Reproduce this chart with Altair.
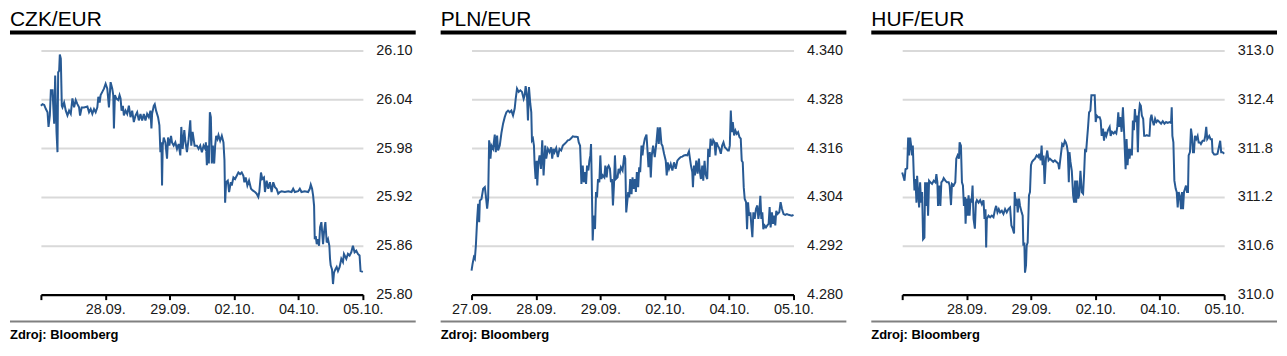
import altair as alt
import pandas as pd

# ---------------- data (observation index, rate) ----------------
TICK_POS = [0, 194, 388, 582, 776, 970]
CZK_LABELS = ["", "28.09.", "29.09.", "02.10.", "04.10.", "05.10."]
PLN_LABELS = ["27.09.", "28.09.", "29.09.", "02.10.", "04.10.", "05.10."]
HUF_LABELS = ["", "28.09.", "29.09.", "02.10.", "04.10.", "05.10."]

CZK_IDX = [0, 5, 10, 15, 20, 23, 27, 30, 35, 37, 40, 43, 47, 50, 52, 55, 57, 60, 63, 65,
           70, 75, 80, 85, 90, 95, 100, 105, 110, 115, 118, 123, 130, 140, 145, 150, 155, 160, 165, 170,
           173, 177, 180, 185, 190, 195, 200, 205, 210, 215, 218, 220, 223, 227, 233, 237, 240, 243, 247, 250,
           255, 260, 265, 270, 275, 280, 285, 290, 295, 300, 305, 310, 315, 320, 325, 330, 333, 335, 340, 343,
           347, 353, 357, 360, 363, 365, 367, 370, 375, 380, 383, 387, 392, 395, 400, 405, 410, 415, 420, 423,
           427, 432, 435, 440, 445, 450, 453, 457, 463, 470, 475, 480, 485, 490, 495, 497, 500, 503, 506, 509,
           512, 515, 518, 522, 525, 528, 532, 535, 540, 545, 550, 553, 555, 558, 563, 567, 572, 575, 580, 585,
           590, 595, 600, 605, 610, 613, 617, 622, 627, 633, 638, 645, 650, 655, 658, 663, 667, 672, 675, 680,
           685, 690, 695, 700, 705, 710, 715, 720, 725, 735, 745, 755, 760, 765, 775, 780, 785, 795, 805, 810,
           813, 817, 820, 823, 825, 828, 831, 835, 838, 841, 845, 850, 853, 857, 861, 865, 869, 871, 873, 877,
           880, 883, 887, 891, 895, 900, 905, 910, 913, 920, 925, 930, 935, 940, 945, 950, 955, 960, 963, 970]
CZK_VAL = [26.032, 26.034, 26.033, 26.028, 26.024, 26.006, 26.020, 26.051, 26.051, 26.034, 26.010, 26.069, 26.000, 25.975, 26.073, 26.075, 26.095, 26.090, 26.032, 26.030,
           26.036, 26.026, 26.020, 26.026, 26.022, 26.041, 26.030, 26.039, 26.034, 26.030, 26.020, 26.030, 26.030, 26.031, 26.024, 26.028, 26.022, 26.028, 26.024, 26.030,
           26.043, 26.036, 26.045, 26.049, 26.053, 26.059, 26.053, 26.030, 26.061, 26.053, 26.045, 26.004, 26.045, 26.041, 26.039, 26.045, 26.041, 26.026, 26.032, 26.020,
           26.026, 26.022, 26.032, 26.018, 26.026, 26.012, 26.020, 26.024, 26.014, 26.022, 26.014, 26.022, 26.014, 26.022, 26.018, 26.026, 26.004, 26.022, 26.032, 26.034,
           26.026, 26.018, 26.008, 25.975, 25.987, 25.934, 25.983, 25.993, 25.987, 25.967, 25.993, 25.983, 25.995, 25.987, 25.983, 25.987, 25.979, 25.985, 25.971, 26.006,
           25.979, 26.002, 25.989, 25.975, 25.991, 26.014, 25.983, 26.000, 25.983, 25.983, 25.979, 25.983, 25.975, 25.983, 25.979, 25.987, 25.959, 25.983, 25.961, 26.024,
           26.018, 25.961, 25.983, 25.961, 25.983, 25.995, 25.991, 25.996, 25.989, 25.995, 25.987, 25.965, 25.913, 25.938, 25.940, 25.926, 25.938, 25.934, 25.944, 25.942,
           25.946, 25.950, 25.948, 25.950, 25.946, 25.938, 25.944, 25.934, 25.940, 25.930, 25.928, 25.926, 25.924, 25.920, 25.926, 25.950, 25.942, 25.944, 25.926, 25.940,
           25.930, 25.938, 25.926, 25.938, 25.932, 25.930, 25.924, 25.926, 25.927, 25.926, 25.927, 25.926, 25.930, 25.926, 25.927, 25.930, 25.926, 25.927, 25.926, 25.930,
           25.935, 25.930, 25.922, 25.909, 25.868, 25.872, 25.862, 25.868, 25.860, 25.883, 25.889, 25.862, 25.877, 25.889, 25.864, 25.868, 25.860, 25.844, 25.836, 25.831,
           25.813, 25.827, 25.831, 25.834, 25.829, 25.834, 25.844, 25.840, 25.850, 25.844, 25.850, 25.848, 25.852, 25.860, 25.852, 25.854, 25.850, 25.848, 25.829, 25.828]

PLN_IDX = [0, 3, 7, 10, 13, 17, 20, 23, 25, 30, 35, 40, 43, 47, 50, 53, 57, 60, 65, 70,
           73, 77, 80, 85, 90, 95, 100, 105, 110, 115, 120, 125, 130, 133, 137, 142, 147, 152, 157, 160,
           163, 167, 170, 173, 177, 180, 182, 185, 188, 190, 193, 196, 198, 201, 205, 209, 213, 217, 222, 225,
           230, 235, 240, 243, 247, 250, 255, 260, 265, 270, 275, 280, 285, 290, 295, 300, 305, 310, 315, 320,
           323, 327, 329, 331, 335, 338, 342, 345, 348, 352, 355, 358, 360, 362, 365, 368, 372, 375, 378, 381,
           385, 388, 391, 395, 400, 403, 407, 410, 413, 417, 420, 423, 426, 429, 432, 435, 440, 443, 447, 450,
           455, 460, 463, 466, 469, 472, 475, 478, 482, 485, 488, 492, 495, 498, 502, 505, 508, 512, 515, 518,
           522, 527, 531, 533, 537, 540, 543, 547, 552, 557, 561, 564, 568, 572, 575, 580, 585, 588, 591, 595,
           600, 605, 610, 615, 620, 625, 630, 635, 640, 645, 650, 655, 658, 661, 665, 667, 670, 673, 677, 681,
           685, 688, 691, 695, 698, 702, 705, 708, 710, 713, 717, 720, 724, 728, 732, 735, 738, 742, 747, 751,
           755, 759, 763, 768, 772, 775, 778, 781, 784, 787, 791, 795, 799, 803, 807, 811, 814, 817, 820, 823,
           827, 830, 833, 836, 840, 843, 846, 849, 853, 857, 861, 864, 867, 870, 873, 876, 879, 883, 887, 891,
           895, 898, 901, 905, 908, 912, 915, 918, 922, 927, 931, 935, 940, 945, 950, 955, 965, 970]
PLN_VAL = [4.2859, 4.2875, 4.2892, 4.2888, 4.2920, 4.2986, 4.3023, 4.2978, 4.3031, 4.3035, 4.3060, 4.3064, 4.3043, 4.3011, 4.3035, 4.3179, 4.3134, 4.3166, 4.3158, 4.3193,
           4.3150, 4.3191, 4.3154, 4.3166, 4.3197, 4.3220, 4.3236, 4.3248, 4.3252, 4.3248, 4.3252, 4.3240, 4.3257, 4.3281, 4.3306, 4.3298, 4.3302, 4.3298, 4.3281, 4.3289,
           4.3312, 4.3289, 4.3228, 4.3310, 4.3269, 4.3248, 4.3179, 4.3183, 4.3166, 4.3121, 4.3084, 4.3129, 4.3068, 4.3121, 4.3142, 4.3109, 4.3179, 4.3093, 4.3166, 4.3134,
           4.3158, 4.3150, 4.3162, 4.3134, 4.3158, 4.3150, 4.3160, 4.3138, 4.3158, 4.3154, 4.3166, 4.3170, 4.3174, 4.3179, 4.3180, 4.3184, 4.3189, 4.3188, 4.3188, 4.3187,
           4.3174, 4.3166, 4.3121, 4.3072, 4.3117, 4.3076, 4.3101, 4.3072, 4.3117, 4.3105, 4.3129, 4.3142, 4.3170, 4.3084, 4.2933, 4.2994, 4.2961, 4.3052, 4.3039, 4.3084,
           4.3076, 4.3142, 4.3084, 4.3093, 4.3088, 4.3117, 4.3088, 4.3113, 4.3117, 4.3109, 4.3076, 4.3084, 4.3019, 4.3068, 4.3142, 4.3084, 4.3088, 4.3109, 4.3101, 4.3113,
           4.3105, 4.3142, 4.3134, 4.3002, 4.3027, 4.3052, 4.3039, 4.3084, 4.3047, 4.3088, 4.3060, 4.3084, 4.3052, 4.3101, 4.3064, 4.3113, 4.3101, 4.3166, 4.3142, 4.3166,
           4.3183, 4.3193, 4.3142, 4.3113, 4.3150, 4.3088, 4.3142, 4.3166, 4.3138, 4.3174, 4.3211, 4.3170, 4.3211, 4.3170, 4.3166, 4.3146, 4.3129, 4.3093, 4.3125, 4.3109,
           4.3121, 4.3105, 4.3125, 4.3109, 4.3129, 4.3134, 4.3138, 4.3139, 4.3142, 4.3143, 4.3142, 4.3152, 4.3134, 4.3117, 4.3101, 4.3064, 4.3117, 4.3093, 4.3129, 4.3097,
           4.3134, 4.3101, 4.3084, 4.3117, 4.3080, 4.3129, 4.3097, 4.3088, 4.3084, 4.3158, 4.3138, 4.3183, 4.3166, 4.3180, 4.3174, 4.3142, 4.3174, 4.3166, 4.3158, 4.3146,
           4.3166, 4.3174, 4.3162, 4.3158, 4.3154, 4.3154, 4.3166, 4.3252, 4.3199, 4.3224, 4.3191, 4.3203, 4.3195, 4.3199, 4.3187, 4.3183, 4.3129, 4.3125, 4.3064, 4.3035,
           4.3027, 4.2961, 4.3027, 4.2994, 4.3002, 4.2970, 4.2941, 4.3002, 4.2986, 4.3011, 4.3019, 4.2986, 4.3002, 4.3043, 4.2986, 4.3002, 4.2961, 4.2970, 4.2965, 4.2970,
           4.2974, 4.3015, 4.2965, 4.3002, 4.2974, 4.2994, 4.2970, 4.3006, 4.2998, 4.3002, 4.3027, 4.3011, 4.2998, 4.2996, 4.2998, 4.2996, 4.2994, 4.2996]

HUF_IDX = [0, 3, 7, 10, 15, 18, 21, 24, 27, 30, 32, 35, 37, 40, 43, 45, 48, 51, 54, 57,
           60, 63, 67, 69, 72, 75, 78, 81, 85, 90, 95, 100, 103, 106, 108, 112, 115, 118, 122, 125,
           130, 135, 140, 143, 147, 150, 155, 160, 163, 167, 171, 173, 177, 180, 183, 186, 189, 191, 194, 197,
           200, 203, 206, 209, 212, 215, 219, 222, 225, 230, 235, 240, 245, 248, 251, 253, 255, 260, 265, 270,
           275, 280, 283, 287, 291, 295, 300, 305, 310, 315, 320, 325, 329, 333, 337, 339, 342, 345, 348, 352,
           355, 360, 363, 365, 368, 370, 373, 375, 378, 382, 385, 388, 391, 395, 400, 405, 410, 413, 417, 420,
           423, 426, 429, 433, 437, 441, 445, 450, 455, 460, 465, 470, 473, 476, 479, 482, 486, 490, 493, 496,
           499, 502, 504, 507, 511, 515, 518, 521, 524, 527, 530, 533, 537, 541, 545, 548, 551, 554, 557, 560,
           563, 567, 570, 575, 580, 583, 586, 590, 595, 598, 601, 605, 608, 611, 615, 620, 625, 628, 632, 637,
           641, 645, 648, 651, 654, 657, 661, 665, 669, 673, 676, 679, 682, 685, 688, 692, 695, 698, 701, 704,
           707, 710, 713, 716, 719, 722, 726, 729, 733, 737, 741, 745, 748, 751, 754, 758, 762, 766, 770, 775,
           780, 785, 790, 795, 800, 805, 810, 812, 814, 817, 820, 824, 827, 830, 833, 837, 840, 843, 846, 849,
           852, 855, 858, 861, 863, 867, 870, 873, 876, 879, 882, 886, 890, 893, 897, 900, 905, 910, 913, 916,
           919, 922, 925, 929, 933, 935, 940, 945, 950, 955, 958, 961, 965, 970]
HUF_VAL = [311.50, 311.46, 311.40, 311.54, 311.55, 311.93, 311.71, 311.93, 311.83, 311.71, 311.83, 311.46, 311.28, 311.42, 311.13, 311.46, 311.26, 311.07, 311.38, 311.13,
           311.26, 310.68, 310.70, 311.38, 311.09, 311.38, 310.97, 311.40, 311.38, 311.36, 311.40, 311.38, 311.48, 311.38, 311.09, 311.34, 311.09, 311.38, 311.40, 311.43,
           311.40, 311.38, 311.38, 311.34, 311.10, 311.36, 311.34, 311.38, 311.67, 311.71, 311.67, 311.87, 311.83, 311.38, 311.34, 311.09, 311.20, 310.87, 311.18, 310.97,
           311.22, 310.97, 311.18, 311.13, 311.34, 310.93, 310.81, 311.13, 311.16, 311.13, 311.16, 311.11, 311.16, 310.93, 311.05, 310.58, 310.93, 310.97, 310.95, 310.97,
           310.95, 311.05, 311.09, 311.01, 311.05, 311.01, 311.03, 310.99, 311.05, 311.01, 311.05, 311.07, 310.85, 310.81, 310.75, 311.26, 311.09, 311.18, 311.01, 311.18,
           311.09, 311.01, 310.97, 310.60, 310.64, 310.27, 310.36, 310.60, 310.64, 311.22, 311.26, 311.59, 311.63, 311.65, 311.67, 311.71, 311.69, 311.73, 311.65, 311.83,
           311.59, 311.71, 311.36, 311.67, 311.77, 311.65, 311.67, 311.65, 311.63, 311.65, 311.63, 311.61, 311.54, 311.65, 311.75, 311.85, 311.83, 311.89, 311.87, 311.83,
           311.75, 311.38, 311.75, 311.63, 311.52, 311.22, 311.13, 311.40, 311.13, 311.40, 311.18, 311.22, 311.52, 311.26, 311.24, 311.48, 311.79, 311.75, 311.91, 312.06,
           312.24, 312.26, 312.45, 312.45, 312.45, 312.12, 312.20, 312.18, 312.18, 312.14, 311.95, 312.04, 311.89, 312.00, 311.95, 312.02, 312.06, 311.95, 312.00, 311.98,
           312.00, 311.98, 312.06, 312.24, 312.06, 312.18, 312.00, 312.30, 311.95, 311.54, 311.91, 311.59, 311.79, 311.67, 311.79, 311.71, 312.14, 312.02, 312.28, 312.12,
           312.20, 311.75, 312.22, 312.34, 312.32, 312.20, 312.16, 311.95, 311.95, 311.96, 311.95, 311.95, 312.16, 312.21, 312.14, 312.08, 312.16, 312.12, 312.14, 312.12,
           312.10, 312.13, 312.10, 312.12, 312.11, 312.12, 312.11, 312.30, 311.95, 311.87, 311.40, 311.30, 311.26, 311.07, 311.26, 311.20, 311.05, 311.26, 311.05, 311.26,
           311.30, 311.34, 311.26, 311.26, 311.71, 311.75, 312.04, 311.95, 311.75, 311.75, 311.95, 311.91, 311.95, 311.87, 311.87, 311.85, 311.89, 311.89, 311.95, 312.06,
           311.91, 311.93, 311.95, 311.91, 311.91, 311.75, 311.72, 311.72, 311.73, 311.83, 311.89, 311.75, 311.75, 311.73]

CZK_TICKS = [25.80, 25.86, 25.92, 25.98, 26.04, 26.10]
PLN_TICKS = [4.280, 4.292, 4.304, 4.316, 4.328, 4.340]
HUF_TICKS = [310.0, 310.6, 311.2, 311.8, 312.4, 313.0]

FONT = "Liberation Sans"
LINE_COLOR = "#285a94"
W, H = 323, 245


def panel(title, idx, val, yticks, fmt, xlabels):
    df = pd.DataFrame({"x": idx, "y": val})
    label_expr = "[" + ",".join("'" + s + "'" for s in xlabels) + "][round(datum.value / 194)]"
    line = alt.Chart(df).mark_line(color=LINE_COLOR, strokeWidth=2, interpolate="linear").encode(
        x=alt.X("x:Q",
                scale=alt.Scale(domain=[TICK_POS[0], TICK_POS[-1]], nice=False, zero=False),
                axis=alt.Axis(values=TICK_POS, labelExpr=label_expr, title=None, grid=False,
                              domainColor="black", domainWidth=2.5, tickColor="black", tickWidth=2,
                              tickSize=5, labelFontSize=14.5, labelFont=FONT, labelColor="#1a1a1a",
                              labelPadding=3, labelFlush=False, labelOverlap=False)),
        y=alt.Y("y:Q",
                scale=alt.Scale(domain=[yticks[0], yticks[-1]], nice=False, zero=False),
                axis=alt.Axis(orient="right", values=yticks, format=fmt, title=None, domain=False,
                              ticks=False, grid=True, gridColor="#d9d9d9", gridWidth=2,
                              labelPadding=13, labelFontSize=14.5, labelFont=FONT, labelColor="#1a1a1a")),
    )
    one = pd.DataFrame({"t": [title], "s": ["Zdroj: Bloomberg"]})
    # invisible spacer so the title's full ascent stays inside the page
    spacer = alt.Chart(one).mark_rule(strokeWidth=2, opacity=0).encode(
        x=alt.value(0), x2=alt.value(2), y=alt.value(-42))
    ttl = alt.Chart(one).mark_text(align="left", baseline="alphabetic", fontSize=21, font=FONT,
                                   color="black").encode(
        x=alt.value(-31), y=alt.value(-24), text="t:N")
    top_rule = alt.Chart(one).mark_rule(color="black", strokeWidth=4).encode(
        x=alt.value(-31), x2=alt.value(W + 53), y=alt.value(-18))
    bot_rule = alt.Chart(one).mark_rule(color="#808080", strokeWidth=2).encode(
        x=alt.value(-31), x2=alt.value(W + 53), y=alt.value(H + 27))
    src = alt.Chart(one).mark_text(align="left", baseline="middle", fontSize=13, font=FONT,
                                   fontWeight="bold", color="black").encode(
        x=alt.value(-31), y=alt.value(H + 41), text="s:N")
    return alt.layer(line, spacer, ttl, top_rule, bot_rule, src).properties(width=W, height=H)


chart = alt.hconcat(
    panel("CZK/EUR", CZK_IDX, CZK_VAL, CZK_TICKS, ".2f", CZK_LABELS),
    panel("PLN/EUR", PLN_IDX, PLN_VAL, PLN_TICKS, ".3f", PLN_LABELS),
    panel("HUF/EUR", HUF_IDX, HUF_VAL, HUF_TICKS, ".1f", HUF_LABELS),
    spacing=21,
).properties(padding=0, background="white").configure_view(stroke=None)

chart.save("out.html", embed_options={"renderer": "svg", "actions": False})
